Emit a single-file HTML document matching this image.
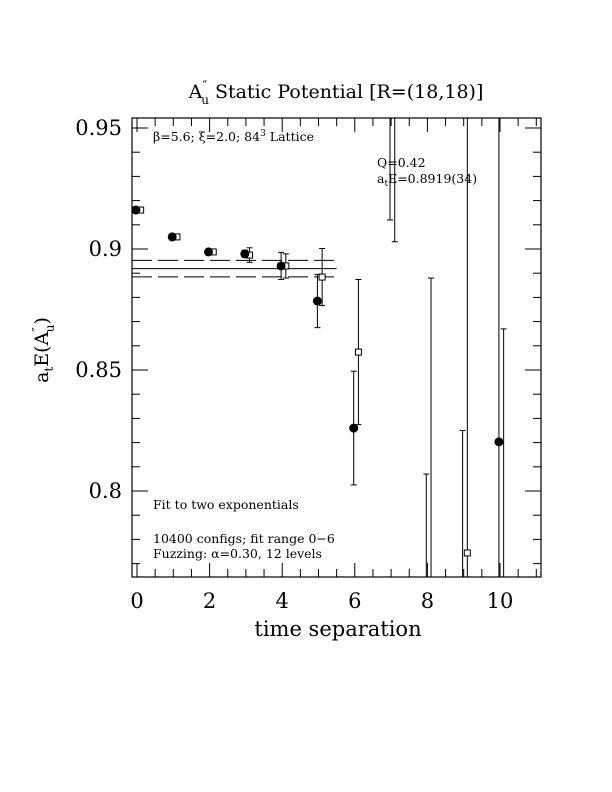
<!DOCTYPE html>
<html><head><meta charset="utf-8"><style>
html,body{margin:0;background:#fff;width:612px;height:792px;overflow:hidden}
svg{display:block;font-family:"DejaVu Serif","Liberation Serif",serif}
</style></head><body>
<svg width="612" height="792" viewBox="0 0 612 792">
<rect width="612" height="792" fill="#fff"/>
<text x="336" y="98" font-size="19" text-anchor="middle">A<tspan font-size="13" dy="-8">″</tspan><tspan font-size="12" dy="14" dx="-6">u</tspan><tspan dy="-6">  Static Potential [R=(18,18)]</tspan></text>
<text transform="translate(48,350) rotate(-90)" font-size="19" text-anchor="middle">a<tspan font-size="12" dy="5">t</tspan><tspan dy="-5">E(A</tspan><tspan font-size="12" dy="-7">″</tspan><tspan font-size="12" dy="13" dx="-5">u</tspan><tspan dy="-6">)</tspan></text>
<text x="338" y="636" font-size="21" text-anchor="middle">time separation</text>
<g id="axes"></g>
<g id="marks"></g>
<rect x="132" y="118" width="409" height="459" fill="none" stroke="#000" stroke-width="1.2"/>
<text x="153" y="141" font-size="12.5">β=5.6; ξ=2.0; 84<tspan font-size="9" dy="-5">3</tspan><tspan dy="5"> Lattice</tspan></text>
<text x="377" y="167" font-size="12.5">Q=0.42</text>
<text x="377" y="183" font-size="12.5">a<tspan font-size="9" dy="3">t</tspan><tspan dy="-3">E=0.8919(34)</tspan></text>
<text x="153" y="509" font-size="12.5">Fit to two exponentials</text>
<text x="153" y="543" font-size="12.5">10400 configs; fit range 0−6</text>
<text x="153" y="558" font-size="12.5">Fuzzing: α=0.30, 12 levels</text>
</svg>
<script>
const times=[0,1,2,3,4,5,6,7,8,9,10];
const circleVals=[0.9161,0.905,0.8988,0.898,0.893,0.8785,0.826,0.98,0.74,0.70,0.8203];
const circleErrs=[0.0008,0.0008,0.0008,0.0015,0.0056,0.011,0.0235,0.068,0.067,0.125,0.15];
const squareVals=[0.9161,0.905,0.8988,0.8975,0.893,0.8884,0.8574,0.97,0.74,0.7744,0.75];
const squareErrs=[0.0008,0.0008,0.0008,0.003,0.005,0.0118,0.03,0.067,0.148,0.2,0.117];
const fitVal=0.8919, fitErr=0.0034, fitEnd=5.5;
const xTickLabels=[0,2,4,6,8,10];
const yTickLabels=[0.8,0.85,0.9,0.95];
const NS='http://www.w3.org/2000/svg';
const L=132,R=541,T=118,B=577;
const xs=t=>137+t*36.3;
const ys=v=>249-(v-0.9)*2420;
const axes=document.getElementById('axes'),marks=document.getElementById('marks');
function mk(tag,at,parent){const e=document.createElementNS(NS,tag);for(const k in at)e.setAttribute(k,at[k]);parent.appendChild(e);return e;}
function line(x1,y1,x2,y2,parent,extra){return mk('line',Object.assign({x1,y1,x2,y2,stroke:'#000','stroke-width':1},extra||{}),parent);}
const defs=mk('defs',{},document.querySelector('svg'));
const clip=mk('clipPath',{id:'pc'},defs);
mk('rect',{x:L,y:T,width:R-L,height:B-T},clip);
marks.setAttribute('clip-path','url(#pc)');
for(let t=0;t<=11;t+=0.5){const x=xs(t);if(x<L||x>R)continue;const maj=(t%2===0);const len=maj?14:8;
 let a=line(x,B,x,B-len,axes);
 let b=line(x,T,x,T+len,axes);}
xTickLabels.forEach(t=>{const e=mk('text',{x:xs(t),y:608,'font-size':21,'text-anchor':'middle'},axes);e.textContent=t;
 });
for(let i=77;i<=95;i++){const v=i/100;const y=ys(v);if(y<T||y>B)continue;const maj=(i%5===0);const len=maj?16:8;
 let a=line(L,y,L+len,y,axes);
 let b=line(R,y,R-len,y,axes);}
yTickLabels.forEach(v=>{const e=mk('text',{x:122,y:ys(v)+7,'font-size':21,'text-anchor':'end'},axes);e.textContent=String(v);
 });
let f=line(L,ys(fitVal),xs(fitEnd),ys(fitVal),marks);
[fitVal+fitErr,fitVal-fitErr].forEach(v=>{let d=line(L,ys(v),xs(fitEnd),ys(v),marks,{'stroke-dasharray':'20,6'});
 });
function errbar(x,v,e){const g=mk('g',{},marks);const y1=ys(v+e),y2=ys(v-e);
 line(x,y1,x,y2,g);line(x-3,y1,x+3,y1,g);line(x-3,y2,x+3,y2,g);return g;}
times.forEach((t,i)=>{const x=xs(t+0.1);const g=errbar(x,squareVals[i],squareErrs[i]);
 
 const s=mk('rect',{x:x-3,y:ys(squareVals[i])-3,width:6,height:6,fill:'#fff',stroke:'#000','stroke-width':1},marks);
 });
times.forEach((t,i)=>{const x=xs(t-0.03);const g=errbar(x,circleVals[i],circleErrs[i]);
 
 const c=mk('circle',{cx:x,cy:ys(circleVals[i]),r:4.5,fill:'#000'},marks);
 });
</script>
</body></html>
